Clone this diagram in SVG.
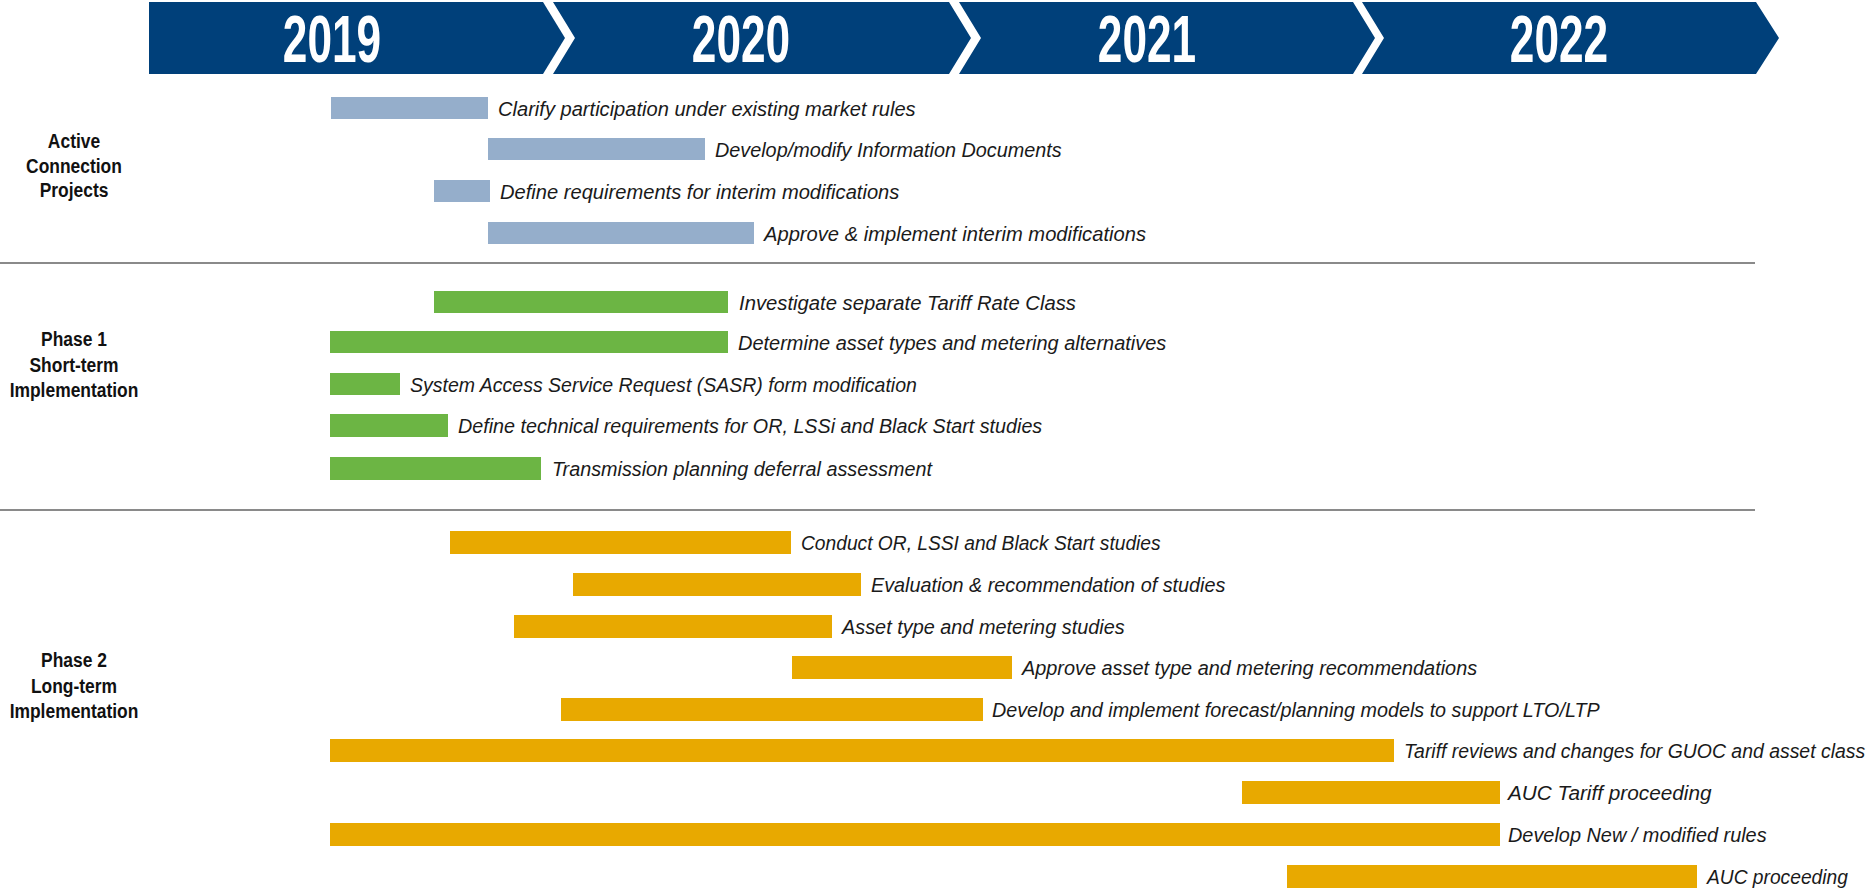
<svg xmlns="http://www.w3.org/2000/svg" width="1874" height="890" viewBox="0 0 1874 890">
<style>
.band{fill:#00407a}
.yr{font-family:"Liberation Sans",Arial,sans-serif;font-weight:bold;font-size:66px;fill:#ffffff;text-anchor:middle}
.sec{font-family:"Liberation Sans",Arial,sans-serif;font-weight:bold;font-size:21px;fill:#111111;text-anchor:middle}
.lbl{font-family:"Liberation Sans",Arial,sans-serif;font-style:italic;font-size:21px;fill:#1a1a1a}
.b{fill:#95aecb}
.g{fill:#6cb544}
.y{fill:#e8a900}
.sep{stroke:#8a8a8a;stroke-width:2;fill:none}
</style>
<rect width="1874" height="890" fill="#ffffff"/>
<g id="timeline">
  <g id="year-2019">
    <path class="band" d="M149,2 H543 L565,38 L543,74 H149 Z"/>
    <text class="yr" transform="translate(332 62) scale(0.67 1)">2019</text>
  </g>
  <g id="year-2020">
    <path class="band" d="M553,2 H949 L971,38 L949,74 H553 L575,38 Z"/>
    <text class="yr" transform="translate(741 62) scale(0.67 1)">2020</text>
  </g>
  <g id="year-2021">
    <path class="band" d="M959,2 H1353 L1375,38 L1353,74 H959 L981,38 Z"/>
    <text class="yr" transform="translate(1147 62) scale(0.67 1)">2021</text>
  </g>
  <g id="year-2022">
    <path class="band" d="M1362,2 H1756 L1779,38 L1756,74 H1362 L1384,38 Z"/>
    <text class="yr" transform="translate(1559 62) scale(0.67 1)">2022</text>
  </g>
</g>
<g id="separators">
  <line class="sep" x1="0" y1="263" x2="1755" y2="263"/>
  <line class="sep" x1="0" y1="510" x2="1755" y2="510"/>
</g>
<g id="section-active">
  <text class="sec" transform="translate(74 148) scale(0.83 1)">Active</text>
  <text class="sec" transform="translate(74 173) scale(0.83 1)">Connection</text>
  <text class="sec" transform="translate(74 197) scale(0.83 1)">Projects</text>
</g>
<g id="section-phase1">
  <text class="sec" transform="translate(74 346) scale(0.83 1)">Phase 1</text>
  <text class="sec" transform="translate(74 372) scale(0.83 1)">Short-term</text>
  <text class="sec" transform="translate(74 397) scale(0.83 1)">Implementation</text>
</g>
<g id="section-phase2">
  <text class="sec" transform="translate(74 667) scale(0.83 1)">Phase 2</text>
  <text class="sec" transform="translate(74 693) scale(0.83 1)">Long-term</text>
  <text class="sec" transform="translate(74 718) scale(0.83 1)">Implementation</text>
</g>
<g id="task-a1"><rect class="b" x="331" y="97" width="157" height="22"/><text class="lbl" transform="translate(498 116) scale(0.957 1)">Clarify participation under existing market rules</text></g>
<g id="task-a2"><rect class="b" x="488" y="138" width="217" height="22"/><text class="lbl" transform="translate(715 157) scale(0.943 1)">Develop/modify Information Documents</text></g>
<g id="task-a3"><rect class="b" x="434" y="180" width="56" height="22"/><text class="lbl" transform="translate(500 199) scale(0.959 1)">Define requirements for interim modifications</text></g>
<g id="task-a4"><rect class="b" x="488" y="222" width="266" height="22"/><text class="lbl" transform="translate(764 241) scale(0.96 1)">Approve &amp; implement interim modifications</text></g>
<g id="task-p1-1"><rect class="g" x="434" y="291" width="294" height="22"/><text class="lbl" transform="translate(739 310) scale(0.965 1)">Investigate separate Tariff Rate Class</text></g>
<g id="task-p1-2"><rect class="g" x="330" y="331" width="398" height="22"/><text class="lbl" transform="translate(738 350) scale(0.951 1)">Determine asset types and metering alternatives</text></g>
<g id="task-p1-3"><rect class="g" x="330" y="373" width="70" height="22"/><text class="lbl" transform="translate(410 392) scale(0.93 1)">System Access Service Request (SASR) form modification</text></g>
<g id="task-p1-4"><rect class="g" x="330" y="414" width="118" height="23"/><text class="lbl" transform="translate(458 433) scale(0.94 1)">Define technical requirements for OR, LSSi and Black Start studies</text></g>
<g id="task-p1-5"><rect class="g" x="330" y="457" width="211" height="23"/><text class="lbl" transform="translate(552 476) scale(0.942 1)">Transmission planning deferral assessment</text></g>
<g id="task-p2-1"><rect class="y" x="450" y="531" width="341" height="23"/><text class="lbl" transform="translate(801 550) scale(0.915 1)">Conduct OR, LSSI and Black Start studies</text></g>
<g id="task-p2-2"><rect class="y" x="573" y="573" width="288" height="23"/><text class="lbl" transform="translate(871 592) scale(0.943 1)">Evaluation &amp; recommendation of studies</text></g>
<g id="task-p2-3"><rect class="y" x="514" y="615" width="318" height="23"/><text class="lbl" transform="translate(842 634) scale(0.946 1)">Asset type and metering studies</text></g>
<g id="task-p2-4"><rect class="y" x="792" y="656" width="220" height="23"/><text class="lbl" transform="translate(1022 675) scale(0.947 1)">Approve asset type and metering recommendations</text></g>
<g id="task-p2-5"><rect class="y" x="561" y="698" width="422" height="23"/><text class="lbl" transform="translate(992 717) scale(0.941 1)">Develop and implement forecast/planning models to support LTO/LTP</text></g>
<g id="task-p2-6"><rect class="y" x="330" y="739" width="1064" height="23"/><text class="lbl" transform="translate(1404 758) scale(0.925 1)">Tariff reviews and changes for GUOC and asset class</text></g>
<g id="task-p2-7"><rect class="y" x="1242" y="781" width="258" height="23"/><text class="lbl" transform="translate(1508 800) scale(0.99 1)">AUC Tariff proceeding</text></g>
<g id="task-p2-8"><rect class="y" x="330" y="823" width="1170" height="23"/><text class="lbl" transform="translate(1508 842) scale(0.948 1)">Develop New / modified rules</text></g>
<g id="task-p2-9"><rect class="y" x="1287" y="865" width="410" height="23"/><text class="lbl" transform="translate(1707 884) scale(0.915 1)">AUC proceeding</text></g>
</svg>
